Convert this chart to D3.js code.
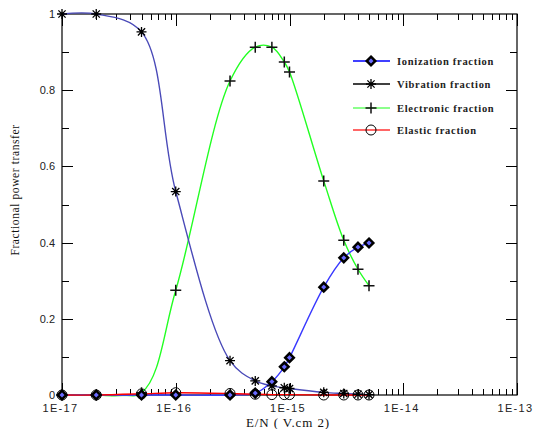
<!DOCTYPE html>
<html><head><meta charset="utf-8">
<script src="https://cdn.jsdelivr.net/npm/d3@7/dist/d3.min.js"></script>
<style>body{margin:0;background:#fff}svg{display:block}</style>
</head><body><svg id="c" width="533" height="429"></svg>
<script>
const EN = [1e-17, 2e-17, 5e-17, 1e-16, 3e-16, 5e-16, 7e-16, 9e-16, 1e-15, 2e-15, 3e-15, 4e-15, 5e-15];
const ionization = [0, 0, 0, 0, 0, 0.005, 0.035, 0.074, 0.098, 0.283, 0.36, 0.388, 0.399];
const vibration  = [1, 1, 0.953, 0.534, 0.09, 0.037, 0.024, 0.019, 0.017, 0.007, 0.004, 0.002, 0.001];
const electronic = [0, 0, 0.006, 0.275, 0.824, 0.913, 0.913, 0.874, 0.848, 0.562, 0.406, 0.33, 0.287];
const elastic    = [0, 0, 0.003, 0.006, 0.004, 0.002, 0.001, 0.001, 0.001, 0, 0, 0, 0];
const xTickLabels = ["1E-17", "1E-16", "1E-15", "1E-14", "1E-13"];
const yTickLabels = ["0", "0.2", "0.4", "0.6", "0.8", "1"];
const seriesNames = ["Ionization fraction", "Vibration fraction", "Electronic fraction", "Elastic fraction"];

const svg = d3.select("#c");
const x = d3.scaleLog().domain([1e-17, 1e-13]).range([62, 517]);
const y = d3.scaleLinear().domain([0, 1]).range([395, 14]);

svg.append("defs").append("clipPath").attr("id", "clip")
  .append("rect").attr("x", 55).attr("y", 5).attr("width", 470).attr("height", 391.5);

// frame
svg.append("rect").attr("x", 62).attr("y", 14).attr("width", 455).attr("height", 381)
  .attr("fill", "none").attr("stroke", "#000").attr("stroke-width", 1.2);

// x ticks (top and bottom, inward)
const decades = [-17, -16, -15, -14, -13];
const g = svg.append("g").attr("stroke", "#000").attr("stroke-width", 1);
decades.forEach((d, i) => {
  for (let m = 1; m <= 9; m++) {
    if (d === -13 && m > 1) break;
    const v = m * Math.pow(10, d);
    const xx = Math.round(x(v)) + 0.5;
    const len = m === 1 ? 12 : 6;
    g.append("line").attr("x1", xx).attr("x2", xx).attr("y1", 14).attr("y2", 14 + len);
    g.append("line").attr("x1", xx).attr("x2", xx).attr("y1", 395).attr("y2", 395 - len);
  }
});
// y ticks
for (let k = 1; k < 10; k++) {
  const yy = Math.round(y(k / 10)) + 0.5;
  const len = k % 2 === 0 ? 11 : 7;
  g.append("line").attr("x1", 62).attr("x2", 62 + len).attr("y1", yy).attr("y2", yy);
  g.append("line").attr("x1", 517).attr("x2", 517 - len).attr("y1", yy).attr("y2", yy);
}

// tick labels
xTickLabels.forEach((t, i) => {
  svg.append("text").attr("x", x(Math.pow(10, decades[i])) - 1.5).attr("y", 412)
    .attr("text-anchor", "middle").attr("font-family", "Liberation Sans, Arial, sans-serif")
    .attr("font-size", 11).attr("letter-spacing", 1.3).attr("fill", "#222").text(t);
});
yTickLabels.forEach((t, i) => {
  svg.append("text").attr("x", 55).attr("y", y(i * 0.2) + 4)
    .attr("text-anchor", "end").attr("font-family", "Liberation Sans, Arial, sans-serif")
    .attr("font-size", 11).attr("fill", "#222").text(t);
});

// axis titles
svg.append("text").attr("x", 288).attr("y", 427).attr("text-anchor", "middle")
  .attr("font-family", "Liberation Serif, Times New Roman, serif").attr("font-size", 13)
  .attr("letter-spacing", 0.9).attr("fill", "#111").text("E/N ( V.cm 2)");
svg.append("text").attr("transform", "translate(19,190) rotate(-90)").attr("text-anchor", "middle")
  .attr("font-family", "Liberation Serif, Times New Roman, serif").attr("font-size", 11.5)
  .attr("letter-spacing", 0.6).attr("fill", "#111").text("Fractional power transfer");

// curves
const line = d3.line().x(d => x(d[0])).y(d => y(d[1])).curve(d3.curveCatmullRom.alpha(0.5));
const pts = arr => EN.map((e, i) => [e, arr[i]]);
const cg = svg.append("g").attr("clip-path", "url(#clip)");
cg.append("path").attr("d", line(pts(electronic))).attr("fill", "none").attr("stroke", "#22ff22").attr("stroke-width", 1.4);
cg.append("path").attr("d", line(pts(vibration))).attr("fill", "none").attr("stroke", "#4a4ab8").attr("stroke-width", 1.4);
cg.append("path").attr("d", line(pts(ionization))).attr("fill", "none").attr("stroke", "#3a3aff").attr("stroke-width", 1.4);
cg.append("path").attr("d", line(pts(elastic))).attr("fill", "none").attr("stroke", "#ff0000").attr("stroke-width", 1.4);

// marker drawers
function diamond(sel, cx, cy) {
  const s = 4.3;
  sel.append("path").attr("d", `M${cx},${cy - s}L${cx + s},${cy}L${cx},${cy + s}L${cx - s},${cy}Z`)
    .attr("fill", "#6a6aff").attr("stroke", "#000").attr("stroke-width", 2.5);
}
function asterisk(sel, cx, cy) {
  const s = 5, d = 3.6;
  const p = `M${cx},${cy - s}L${cx},${cy + s}M${cx - s},${cy}L${cx + s},${cy}M${cx - d},${cy - d}L${cx + d},${cy + d}M${cx - d},${cy + d}L${cx + d},${cy - d}`;
  sel.append("path").attr("d", p).attr("stroke", "#000").attr("stroke-width", 1.3).attr("fill", "none");
}
function plus(sel, cx, cy) {
  const s = 5.5;
  sel.append("path").attr("d", `M${cx},${cy - s}L${cx},${cy + s}M${cx - s},${cy}L${cx + s},${cy}`)
    .attr("stroke", "#111").attr("stroke-width", 1.5).attr("fill", "none");
}
function circle(sel, cx, cy) {
  sel.append("circle").attr("cx", cx).attr("cy", cy).attr("r", 5)
    .attr("fill", "none").attr("stroke", "#000").attr("stroke-width", 1);
}

const mk = svg.append("g");
EN.forEach((e, i) => circle(mk, x(e), y(elastic[i])));
EN.forEach((e, i) => plus(mk, x(e), y(electronic[i])));
EN.forEach((e, i) => asterisk(mk, x(e), y(vibration[i])));
EN.forEach((e, i) => diamond(mk, x(e), y(ionization[i])));

// legend
const legColors = ["#0000ff", "#000000", "#66ff66", "#ff3333"];
const legDraw = [diamond, asterisk, plus, circle];
const legY = [61, 84, 108, 130];
const lg = svg.append("g");
seriesNames.forEach((n, i) => {
  lg.append("line").attr("x1", 353).attr("x2", 390).attr("y1", legY[i]).attr("y2", legY[i])
    .attr("stroke", legColors[i]).attr("stroke-width", 1.4);
  legDraw[i](lg, 371, legY[i]);
  lg.append("text").attr("x", 397).attr("y", legY[i] + 3.5)
    .attr("font-family", "Liberation Serif, Times New Roman, serif").attr("font-size", 10.5)
    .attr("font-weight", "bold").attr("letter-spacing", 0.7).attr("fill", "#222").text(n);
});
</script></body></html>
